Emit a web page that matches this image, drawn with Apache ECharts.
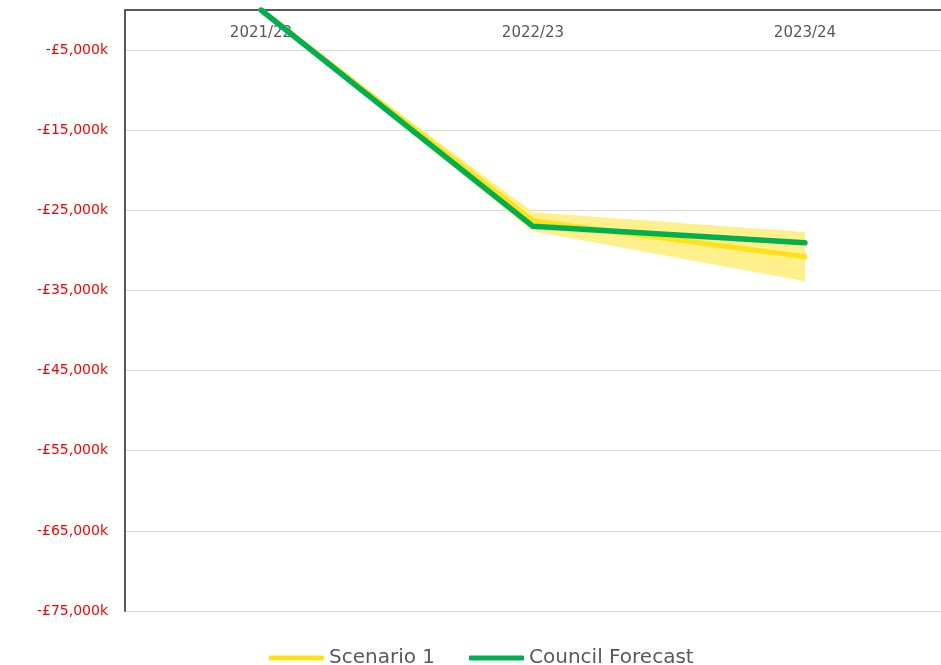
<!DOCTYPE html>
<html lang="en">
  <head>
    <meta charset="UTF-8" />
    <title>Scenario vs Council Forecast</title>
    <script src="https://cdn.jsdelivr.net/npm/echarts@6/dist/echarts.min.js"></script>
    <style>
      html, body { margin: 0; padding: 0; background: #fff; }
      #main { width: 941px; height: 665px; }
    </style>
  </head>
  <body>
    <div id="main"></div>
    <script>
      // values in £k
      var categories = ["2021/22", "2022/23", "2023/24"];
      var scenario1 = [0, -26300, -30800];
      var councilForecast = [0, -27000, -29050];
      var bandUpper = [0, -25250, -27700];
      var bandLower = [-300, -27600, -33850];

      var bandWidth = bandLower.map(function (v, i) {
        return v - bandUpper[i];
      });

      var greyText = "#595959";

      var chart = echarts.init(document.getElementById("main"));

      var option = {
        animation: false,
        grid: { left: 125, right: 0, top: 10, bottom: 54, containLabel: false },
        legend: {
          data: ["Scenario 1", "Council Forecast"],
          left: 264,
          top: 643,
          icon: "roundRect",
          itemWidth: 55,
          itemHeight: 5,
          itemGap: 34,
          textStyle: { color: greyText, fontSize: 20, fontFamily: "DejaVu Sans" },
        },
        xAxis: {
          type: "category",
          data: categories,
          position: "top",
          boundaryGap: true,
          axisLine: { show: true, onZero: false, lineStyle: { color: greyText, width: 2 } },
          axisTick: { show: false },
          axisLabel: {
            inside: true,
            color: greyText,
            fontSize: 15,
            fontFamily: "DejaVu Sans",
            margin: 16,
          },
        },
        yAxis: {
          type: "value",
          min: -75000,
          max: 0,
          interval: 10000,
          axisLine: { show: true, lineStyle: { color: greyText, width: 2 } },
          axisTick: { show: false },
          splitLine: { show: true, lineStyle: { color: "#d9d9d9", width: 1 } },
          axisLabel: {
            color: "#ff0000",
            fontSize: 14,
            fontFamily: "DejaVu Sans",
            margin: 17,
            formatter: function (v) {
              if (v === 0) return "";
              return "-£" + Math.abs(v).toLocaleString("en-GB") + "k";
            },
          },
        },
        series: [
          {
            name: "bandBase",
            type: "line",
            stack: "band",
            data: bandUpper,
            symbol: "none",
            lineStyle: { opacity: 0 },
            silent: true,
            z: 1,
          },
          {
            name: "band",
            type: "line",
            stack: "band",
            data: bandWidth,
            symbol: "none",
            lineStyle: { opacity: 0 },
            areaStyle: { color: "#fff08c", opacity: 1 },
            silent: true,
            z: 1,
          },
          {
            name: "Scenario 1",
            type: "line",
            data: scenario1,
            symbol: "none",
            itemStyle: { color: "#ffe11a" },
            lineStyle: { color: "#ffe11a", width: 5, cap: "round", join: "round" },
            z: 3,
          },
          {
            name: "Council Forecast",
            type: "line",
            data: councilForecast,
            symbol: "none",
            itemStyle: { color: "#00b050" },
            lineStyle: { color: "#00b050", width: 5.5, cap: "round", join: "round" },
            z: 4,
          },
        ],
      };

      chart.setOption(option);
    </script>
  </body>
</html>
